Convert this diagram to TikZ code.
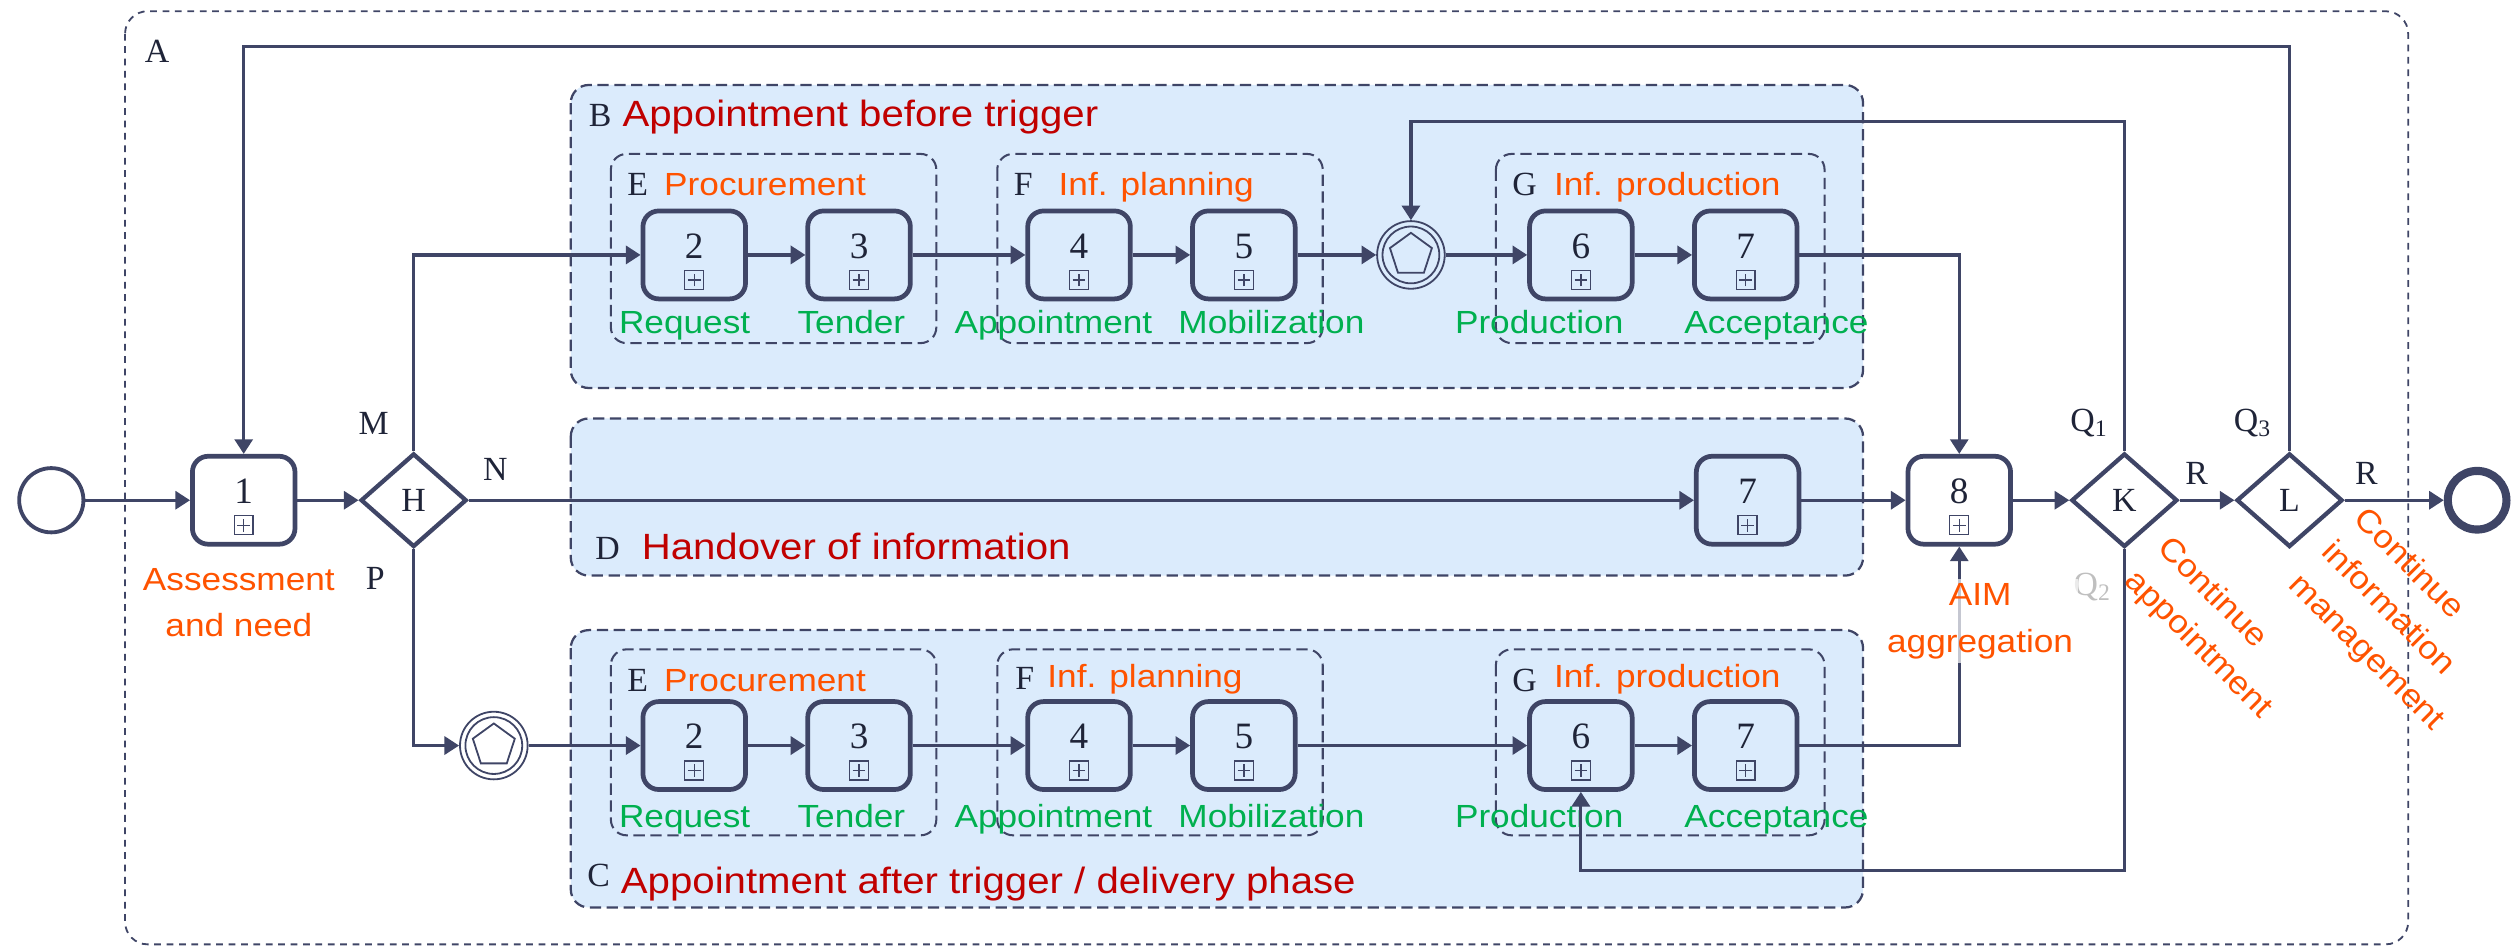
\documentclass[tikz,border=0pt]{standalone}
\usepackage{fontspec}
\usetikzlibrary{shapes.geometric, arrows.meta, positioning}
\newfontfamily\labelfont[FakeStretch=1.1]{Liberation Sans}
\newfontfamily\tagfont{Liberation Serif}
\definecolor{slateink}{HTML}{3F4566}
\definecolor{nightink}{HTML}{1F2438}
\definecolor{lanesky}{HTML}{DBEBFC}
\definecolor{titlered}{HTML}{C00000}
\definecolor{burntorange}{HTML}{FF5300}
\definecolor{leafgreen}{HTML}{00B04F}

\begin{document}
\begin{tikzpicture}[x=0.025cm, y=-0.025cm, node distance=25.5pt]
\tikzstyle{frame} = [draw=slateink, line width=0.8pt, dash pattern=on 3pt off 2.5pt, rounded corners=10pt]
\tikzstyle{lane} = [draw=slateink, line width=1pt, dash pattern=on 5pt off 2.5pt, rounded corners=8pt, fill=lanesky]
\tikzstyle{group} = [draw=slateink, line width=0.9pt, dash pattern=on 5pt off 2.5pt, rounded corners=7pt]
\tikzstyle{task} = [rectangle, rounded corners=7pt, draw=slateink, line width=2.1pt, minimum width=45.5pt, minimum height=39pt, inner sep=0pt, text depth=8pt, text=nightink, font=\tagfont\fontsize{16.5}{18}\selectfont,
  path picture={
    \draw[slateink, line width=0.6pt, sharp corners]
      ([shift={(-4.2pt,4.2pt)}]path picture bounding box.south) rectangle ([shift={(4.2pt,12.6pt)}]path picture bounding box.south)
      ([shift={(-2.8pt,8.4pt)}]path picture bounding box.south) -- ([shift={(2.8pt,8.4pt)}]path picture bounding box.south)
      ([shift={(0pt,5.6pt)}]path picture bounding box.south) -- ([shift={(0pt,11.2pt)}]path picture bounding box.south);}]
\tikzstyle{gateway} = [diamond, draw=slateink, line width=1.9pt, minimum width=47pt, minimum height=41.5pt, inner sep=0pt, text=nightink, font=\tagfont\fontsize{15}{17}\selectfont]
\tikzstyle{event} = [circle, draw=slateink, line width=0.8pt, minimum size=30pt, inner sep=0pt,
  path picture={
    \draw[slateink, line width=0.8pt] (path picture bounding box.center) circle[radius=12.6pt];
    \draw[slateink, line width=0.8pt] (path picture bounding box.center) ++(90:9.8pt) -- ++(216:11.5pt) -- ++(288:11.5pt) -- ++(0:11.5pt) -- ++(72:11.5pt) -- cycle;}]
\tikzstyle{flow} = [draw=slateink, line width=1.4pt, -{Triangle[length=6.5pt, width=8pt]}]
\tikzstyle{tag} = [inner sep=0pt, text=nightink, font=\tagfont\fontsize{15}{17}\selectfont]
\tikzstyle{lanetitle} = [inner sep=0pt, text=titlered, font=\labelfont\fontsize{16.2}{19}\selectfont]
\tikzstyle{grouptitle} = [inner sep=0pt, text=burntorange, font=\labelfont\fontsize{14.2}{17}\selectfont]
\tikzstyle{phase} = [inner sep=0pt, text=burntorange, align=center, font=\labelfont\fontsize{14.2}{20.5}\selectfont]
\tikzstyle{activity} = [inner sep=0pt, text=leafgreen, font=\labelfont\fontsize{14.2}{17}\selectfont]

\useasboundingbox (0,0) rectangle (1568,592);

% frame, lanes and groups
\draw[frame] (78,7) rectangle (1502,589);
\draw[lane] (356,53) rectangle (1162,242);
\draw[lane] (356,261) rectangle (1162,359);
\draw[lane] (356,393) rectangle (1162,566);
\draw[group] (381,96) rectangle (584,214);
\draw[group] (622,96) rectangle (825,214);
\draw[group] (933,96) rectangle (1138,214);
\draw[group] (381,405) rectangle (584,521);
\draw[group] (622,405) rectangle (825,521);
\draw[group] (933,405) rectangle (1138,521);

% lane and group headings
\node[tag, anchor=base west] (tagA) at (90,39) {A};
\node[tag, anchor=base west] (tagB) at (367,79) {B};
\node[lanetitle, anchor=base west] (titleB) at (388,79) {Appointment before trigger};
\node[tag, anchor=base west] (tagD) at (371,349) {D};
\node[lanetitle, anchor=base west] (titleD) at (400,349) {Handover of information};
\node[tag, anchor=base west] (tagC) at (366,553) {C};
\node[lanetitle, anchor=base west] (titleC) at (387,557) {Appointment after trigger / delivery phase};

\node[tag, anchor=base west] (tagBE) at (391,122) {E};
\node[grouptitle, anchor=base west] (procB) at (414,122) {Procurement};
\node[tag, anchor=base west] (tagBF) at (632,122) {F};
\node[grouptitle, anchor=base west] (planB) at (660,122) {Inf. planning};
\node[tag, anchor=base west] (tagBG) at (943,122) {G};
\node[grouptitle, anchor=base west] (prodB) at (969,122) {Inf. production};

\node[tag, anchor=base west] (tagCE) at (391,431) {E};
\node[grouptitle, anchor=base west] (procC) at (414,431) {Procurement};
\node[tag, anchor=base west] (tagCF) at (633,430) {F};
\node[grouptitle, anchor=base west] (planC) at (653,429) {Inf. planning};
\node[tag, anchor=base west] (tagCG) at (943,431) {G};
\node[grouptitle, anchor=base west] (prodC) at (969,429) {Inf. production};

% events, tasks and gateways
\node[circle, draw=slateink, line width=1.7pt, minimum size=28.5pt, inner sep=0pt] (start) at (32,312) {};
\node[task] (t1) at (152,312) {1};
\node[gateway] (gwH) at (258,312) {H};

\node[task] (b2) at (433,159) {2};
\node[task, right=of b2] (b3) {3};
\node[task] (b4) at (673,159) {4};
\node[task, right=of b4] (b5) {5};
\node[event] (evtop) at (880,159) {};
\node[task] (b6) at (986,159) {6};
\node[task, right=of b6] (b7) {7};

\node[task] (d7) at (1090,312) {7};

\node[event] (evbot) at (308,465) {};
\node[task] (c2) at (433,465) {2};
\node[task, right=of c2] (c3) {3};
\node[task] (c4) at (673,465) {4};
\node[task, right=of c4] (c5) {5};
\node[task] (c6) at (986,465) {6};
\node[task, right=of c6] (c7) {7};

\node[task] (t8) at (1222,312) {8};
\node[gateway] (gwK) at (1325,312) {K};
\node[gateway] (gwL) at (1428,312) {L};
\node[circle, draw=slateink, line width=3.6pt, minimum size=26pt, inner sep=0pt] (end) at (1545,312) {};

% activity names
\node[activity, anchor=base] (nb2) at (427,208) {Request};
\node[activity, anchor=base] (nb3) at (531,208) {Tender};
\node[activity, anchor=base] (nb4) at (657,208) {Appointment};
\node[activity, anchor=base] (nb5) at (793,208) {Mobilization};
\node[activity, anchor=base] (nb6) at (960,208) {Production};
\node[activity, anchor=base] (nb7) at (1108,208) {Acceptance};
\node[activity, anchor=base] (nc2) at (427,516) {Request};
\node[activity, anchor=base] (nc3) at (531,516) {Tender};
\node[activity, anchor=base] (nc4) at (657,516) {Appointment};
\node[activity, anchor=base] (nc5) at (793,516) {Mobilization};
\node[activity, anchor=base] (nc6) at (960,516) {Production};
\node[activity, anchor=base] (nc7) at (1108,516) {Acceptance};

% sequence flows
\draw[flow] (start) -- (t1);
\draw[flow] (t1) -- (gwH);
\draw[flow] (gwH.north) |- (b2);
\draw[flow] (gwH) -- (d7);
\draw[flow] (gwH.south) |- (evbot);

\draw[flow] (b2) -- (b3);
\draw[flow] (b3) -- (b4);
\draw[flow] (b4) -- (b5);
\draw[flow] (b5) -- (evtop);
\draw[flow] (evtop) -- (b6);
\draw[flow] (b6) -- (b7);
\draw[flow] (b7) -| (t8);

\draw[flow] (d7) -- (t8);

\draw[flow] (evbot) -- (c2);
\draw[flow] (c2) -- (c3);
\draw[flow] (c3) -- (c4);
\draw[flow] (c4) -- (c5);
\draw[flow] (c5) -- (c6);
\draw[flow] (c6) -- (c7);
\draw[flow] (c7) -| (t8);

\draw[flow] (t8) -- (gwK);
\draw[flow] (gwK) -- (gwL);
\draw[flow] (gwL) -- (end);

% loops back
\coordinate (loopL) at (0,29);
\coordinate (loopK) at (0,76);
\coordinate (loopQ) at (0,543);
\draw[flow] (gwL.north) -- (gwL.north |- loopL) -| (t1);
\draw[flow] (gwK.north) -- (gwK.north |- loopK) -| (evtop);
\draw[flow] (gwK.south) -- (gwK.south |- loopQ) -| (c6);

% gateway branches
\node[tag] (brM) at (233,264) {M};
\node[tag] (brN) at (309,293) {N};
\node[tag] (brP) at (234,361) {P};
\node[tag] (brQ1) at (1303,264) {Q\textsubscript{1}};
\node[tag, text=gray!50] (brQ2) at (1305,366) {Q\textsubscript{2}};
\node[tag] (brQ3) at (1405,264) {Q\textsubscript{3}};
\node[tag] (brR1) at (1370,295) {R};
\node[tag] (brR2) at (1476,295) {R};

% phase notes
\node[phase, anchor=north] (assess) at (149,354) {Assessment\\and need};
\node[phase, anchor=north, fill=white, fill opacity=0.7, text opacity=1, inner sep=2pt] (aim) at (1235,361) {AIM\\aggregation};
\node[phase, rotate=-45, align=left] (contK) at (1381,392) {Continue\\appointment};
\node[phase, rotate=-45, align=left] (contL) at (1496,387) {Continue\\information\\management};

\end{tikzpicture}
\end{document}
